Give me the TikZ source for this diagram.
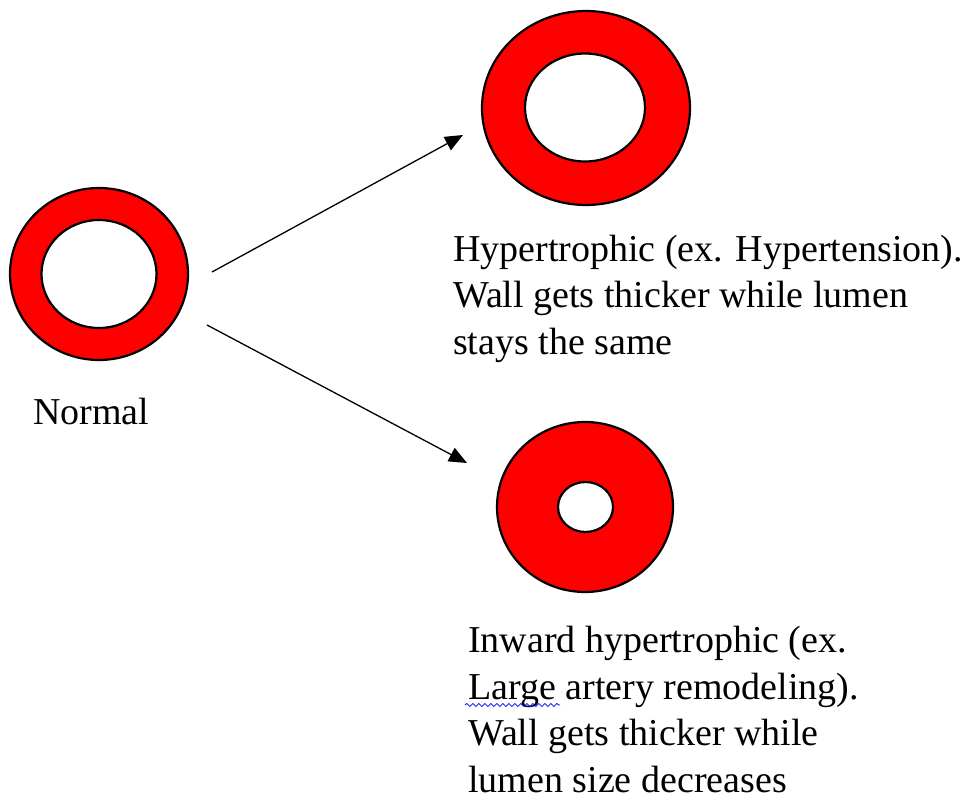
\documentclass[tikz,border=0pt]{standalone}
\usepackage{fontspec}
\setmainfont{Liberation Serif}
\usetikzlibrary{arrows.meta,decorations.pathmorphing}

\tikzset{
  ring/.style={draw=black, line width=2.2pt, fill=red, even odd rule},
  caption/.style={anchor=base west, inner sep=0pt, align=left,
    font=\fontsize{38}{46.5}\selectfont},
  growth/.style={line width=1.3pt, -{Triangle[length=18pt,width=15pt]}}
}

\begin{document}
\begin{tikzpicture}[x=1pt,y=-1pt]
    \useasboundingbox (0,0) rectangle (967,800);

    % vessel walls
    \draw[ring] (99,274) ellipse (89 and 86) (99,274) ellipse (57.5 and 54);
    \draw[ring] (586,108) ellipse (104 and 97) (585,107.5) ellipse (60 and 54);
    \draw[ring] (585,507) ellipse (88 and 85) (585.5,507) ellipse (27.5 and 25);

    % captions (placed at the baseline of their last line)
    \node[caption] (normal) at (33,424) {Normal};
    \node[caption] (hyper) at (453,354)
        {Hypertrophic (ex. Hypertension).\\Wall gets thicker while lumen\\stays the same};
    \node[caption] (inward) at (468,792)
        {Inward hypertrophic (ex.\\Large artery remodeling).\\Wall gets thicker while\\lumen size decreases};

    % spell check mark
    \coordinate (squigA) at (465,705);
    \coordinate (squigB) at (560,705);
    \draw[blue, line width=0.8pt, decorate,
          decoration={snake, segment length=6pt, amplitude=1.5pt}] (squigA) -- (squigB);

    % arrows
    \coordinate (fromtop) at (212,272);
    \coordinate (totop) at (463,135);
    \coordinate (frombot) at (207,325);
    \coordinate (tobot) at (467,463);
    \draw[growth] (fromtop) -- (totop);
    \draw[growth] (frombot) -- (tobot);
\end{tikzpicture}
\end{document}
